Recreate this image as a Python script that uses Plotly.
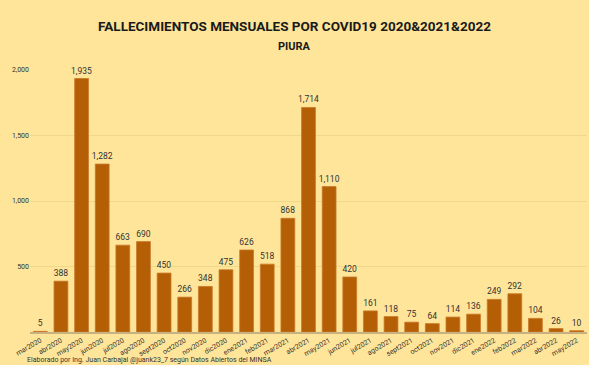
import plotly.graph_objects as go

months = ["mar2020", "abr2020", "may2020", "jun2020", "jul2020", "ago2020", "sept2020",
          "oct2020", "nov2020", "dic2020", "ene2021", "feb2021", "mar2021", "abr2021",
          "may2021", "jun2021", "jul2021", "ago2021", "sept2021", "oct2021", "nov2021",
          "dic2021", "ene2022", "feb2022", "mar2022", "abr2022", "may2022"]
deaths = [5, 388, 1935, 1282, 663, 690, 450, 266, 348, 475, 626, 518, 868, 1714,
          1110, 420, 161, 118, 75, 64, 114, 136, 249, 292, 104, 26, 10]
y_ticks = [500, 1000, 1500, 2000]
y_tick_labels = ["500", "1,000", "1,500", "2,000"]

BG = "#FFE599"
BAR = "#B45F06"

W, H = 589, 365
ML, MR, MT, MB = 30, 2, 70, 33
PW, PH = W - ML - MR, H - MT - MB


def px_to_paper_y(py):
    return (H - MB - py) / PH


def px_to_paper_x(px):
    return (px - ML) / PW


fig = go.Figure(go.Bar(
    x=months, y=deaths,
    marker=dict(color=BAR, line=dict(color="#C9792A", width=0.8)),
    text=[f"{v:,}" for v in deaths], textposition="outside",
    textfont=dict(size=8.5, color="#333333", family="Roboto"),
    constraintext="none",
    cliponaxis=False,
))

fig.update_layout(
    width=W, height=H,
    paper_bgcolor=BG, plot_bgcolor=BG,
    margin=dict(l=ML, r=MR, t=MT, b=MB, autoexpand=False),
    bargap=0.33,
    showlegend=False,
    font=dict(family="Roboto", color="#333333"),
    title=dict(
        text="<b>FALLECIMIENTOS MENSUALES POR COVID19 2020&2021&2022</b>",
        x=0.5, xanchor="center", y=1 - 26 / H, yanchor="middle",
        font=dict(size=13.5, color="#1a1a1a", family="Roboto"),
    ),
    annotations=[
        dict(text="<b>PIURA</b>", x=px_to_paper_x(W / 2), xref="paper",
             y=px_to_paper_y(46), yref="paper",
             xanchor="center", yanchor="middle", showarrow=False,
             font=dict(size=11, color="#1a1a1a", family="Roboto")),
        dict(text="Elaborado por Ing. Juan Carbajal @juank23_7 según Datos Abiertos del MINSA",
             x=px_to_paper_x(25), xref="paper", y=px_to_paper_y(360), yref="paper",
             xanchor="left", yanchor="middle", showarrow=False,
             font=dict(size=7, color="#333333", family="Roboto")),
    ],
    xaxis=dict(
        tickangle=-30, tickfont=dict(size=7, color="#333333"),
        showline=True, linecolor="#C8B080", linewidth=1.5,
        showgrid=False, ticks="", automargin=False,
    ),
    yaxis=dict(
        range=[0, 2000], tickvals=y_ticks, ticktext=y_tick_labels,
        tickfont=dict(size=7, color="#333333"),
        gridcolor="#F0D88A", gridwidth=1, zeroline=False,
        ticks="", showline=False, automargin=False,
    ),
)

fig.write_html("out.html", config={"displayModeBar": False},
               post_script="document.body.style.margin='0';document.body.style.background='%s';" % BG)
